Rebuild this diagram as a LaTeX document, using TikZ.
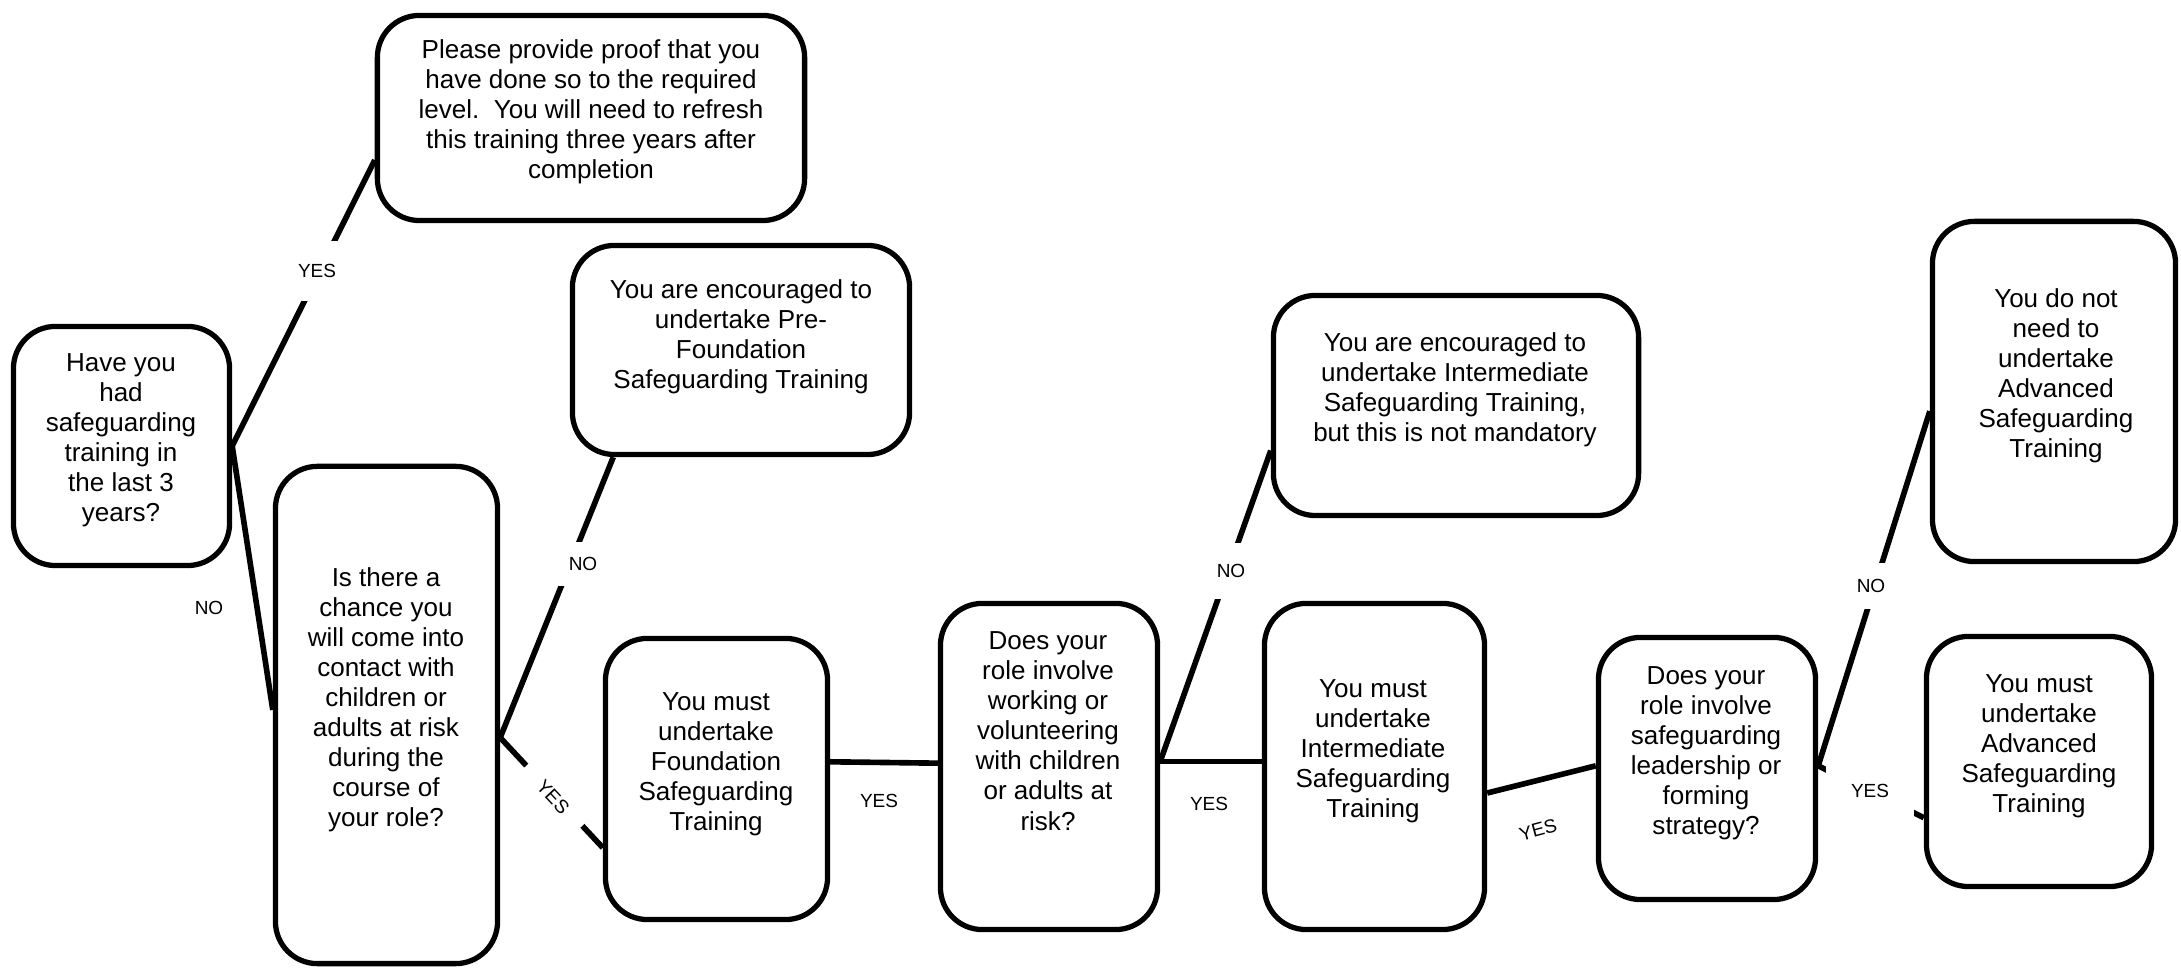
\documentclass[tikz,border=0pt]{standalone}
\usepackage{fontspec}
\setmainfont{Liberation Sans}
\usetikzlibrary{calc}
\begin{document}
\begin{tikzpicture}[x=0.01cm,y=-0.01cm,
  box/.style={draw, line width=1.5pt, rounded corners=0.42cm, inner sep=0pt},
  txt/.style={align=center, inner sep=0pt, font=\fontsize{7.4pt}{8.55pt}\selectfont},
  lab/.style={inner sep=0pt, font=\fontsize{5.4pt}{6.5pt}\selectfont},
  wlab/.style={lab, fill=white},
  conn/.style={line width=1.6pt}]
\useasboundingbox (0,0) rectangle (2181,968);

% boxes
\node[box, minimum width=2.16cm, minimum height=2.39cm] (q1) at (121.5,446) {};
\node[box, minimum width=4.27cm, minimum height=2.05cm] (p) at (591,118) {};
\node[box, minimum width=3.37cm, minimum height=2.09cm] (pf) at (741,350) {};
\node[box, minimum width=2.22cm, minimum height=4.97cm] (q2) at (386.5,715) {};
\node[box, minimum width=2.22cm, minimum height=2.81cm] (f) at (716.5,779) {};
\node[box, minimum width=2.17cm, minimum height=3.26cm] (q3) at (1049,766.5) {};
\node[box, minimum width=3.65cm, minimum height=2.20cm] (ie) at (1456,405.5) {};
\node[box, minimum width=2.20cm, minimum height=3.26cm] (i) at (1374.5,766.5) {};
\node[box, minimum width=2.17cm, minimum height=2.62cm] (q4) at (1707,768.5) {};
\node[box, minimum width=2.43cm, minimum height=3.40cm] (na) at (2054,391.5) {};
\node[box, minimum width=2.25cm, minimum height=2.50cm] (adv) at (2039,761.5) {};

% texts
\node[txt] (q1t) at (121,440) {Have you\\had\\safeguarding\\training in\\the last 3\\years?};
\node[txt] (pt) at (591,112) {Please provide proof that you\\have done so to the required\\level.\ \ You will need to refresh\\this training three years after\\completion};
\node[txt] (pft) at (741,337) {You are encouraged to\\undertake Pre-\\Foundation\\Safeguarding Training};
\node[txt] (q2t) at (386,700) {Is there a\\chance you\\will come into\\contact with\\children or\\adults at risk\\during the\\course of\\your role?};
\node[txt] (ft) at (716,764) {You must\\undertake\\Foundation\\Safeguarding\\Training};
\node[txt] (q3t) at (1048,731) {Does your\\role involve\\working or\\volunteering\\with children\\or adults at\\risk?};
\node[txt] (iet) at (1455,390) {You are encouraged to\\undertake Intermediate\\Safeguarding Training,\\but this is not mandatory};
\node[txt] (it) at (1373,751) {You must\\undertake\\Intermediate\\Safeguarding\\Training};
\node[txt] (q4t) at (1706,753) {Does your\\role involve\\safeguarding\\leadership or\\forming\\strategy?};
\node[txt] (nat) at (2056,376) {You do not\\need to\\undertake\\Advanced\\Safeguarding\\Training};
\node[txt] (advt) at (2039,746) {You must\\undertake\\Advanced\\Safeguarding\\Training};

% connection points
\coordinate (q2e) at ($(q2.north east)!0.545!(q2.south east)$);
\coordinate (q3e) at ($(q3.north east)!0.485!(q3.south east)$);
\coordinate (q4e) at ($(q4.north east)!0.49!(q4.south east)$);

% connectors
\draw[conn] (q1.east) -- ($(p.north west)!0.70!(p.south west)$);
\draw[conn] (q1.east) -- ($(q2.north west)!0.49!(q2.south west)$);
\draw[conn] (q2e) -- ($(pf.south west)!0.127!(pf.south east)$);
\draw[conn] (q2e) -- ($(f.north west)!0.74!(f.south west)$);
\draw[conn] ($(f.north east)!0.44!(f.south east)$) -- ($(q3.north west)!0.49!(q3.south west)$);
\draw[conn] (q3e) -- ($(ie.north west)!0.70!(ie.south west)$);
\draw[conn] (q3e) -- ($(i.north west)!0.485!(i.south west)$);
\draw[conn] ($(i.north east)!0.58!(i.south east)$) -- ($(q4.north west)!0.49!(q4.south west)$);
\draw[conn] (q4e) -- ($(na.north west)!0.557!(na.south west)$);
\draw[conn] (q4e) -- ($(adv.north west)!0.72!(adv.south west)$);

% labels
\node[wlab, minimum width=0.6cm, minimum height=0.59cm] (l1) at (317,271) {YES};
\node[lab] (l2) at (209,608) {NO};
\node[wlab, minimum width=0.5cm, minimum height=0.44cm] (l3) at (583,564) {NO};
\node[wlab, minimum width=0.82cm, minimum height=0.5cm, rotate=-47] (l4) at (553,797) {YES};
\node[lab] (l5) at (879,801) {YES};
\node[wlab, minimum width=0.5cm, minimum height=0.56cm] (l6) at (1231,571) {NO};
\node[lab] (l7) at (1209,804) {YES};
\node[lab, rotate=15] (l8) at (1538,830) {YES};
\node[wlab, minimum width=0.5cm, minimum height=0.45cm] (l9) at (1871,586) {NO};
\node[wlab, minimum width=0.87cm, minimum height=0.6cm] (l10) at (1870,791) {YES};
\end{tikzpicture}
\end{document}
